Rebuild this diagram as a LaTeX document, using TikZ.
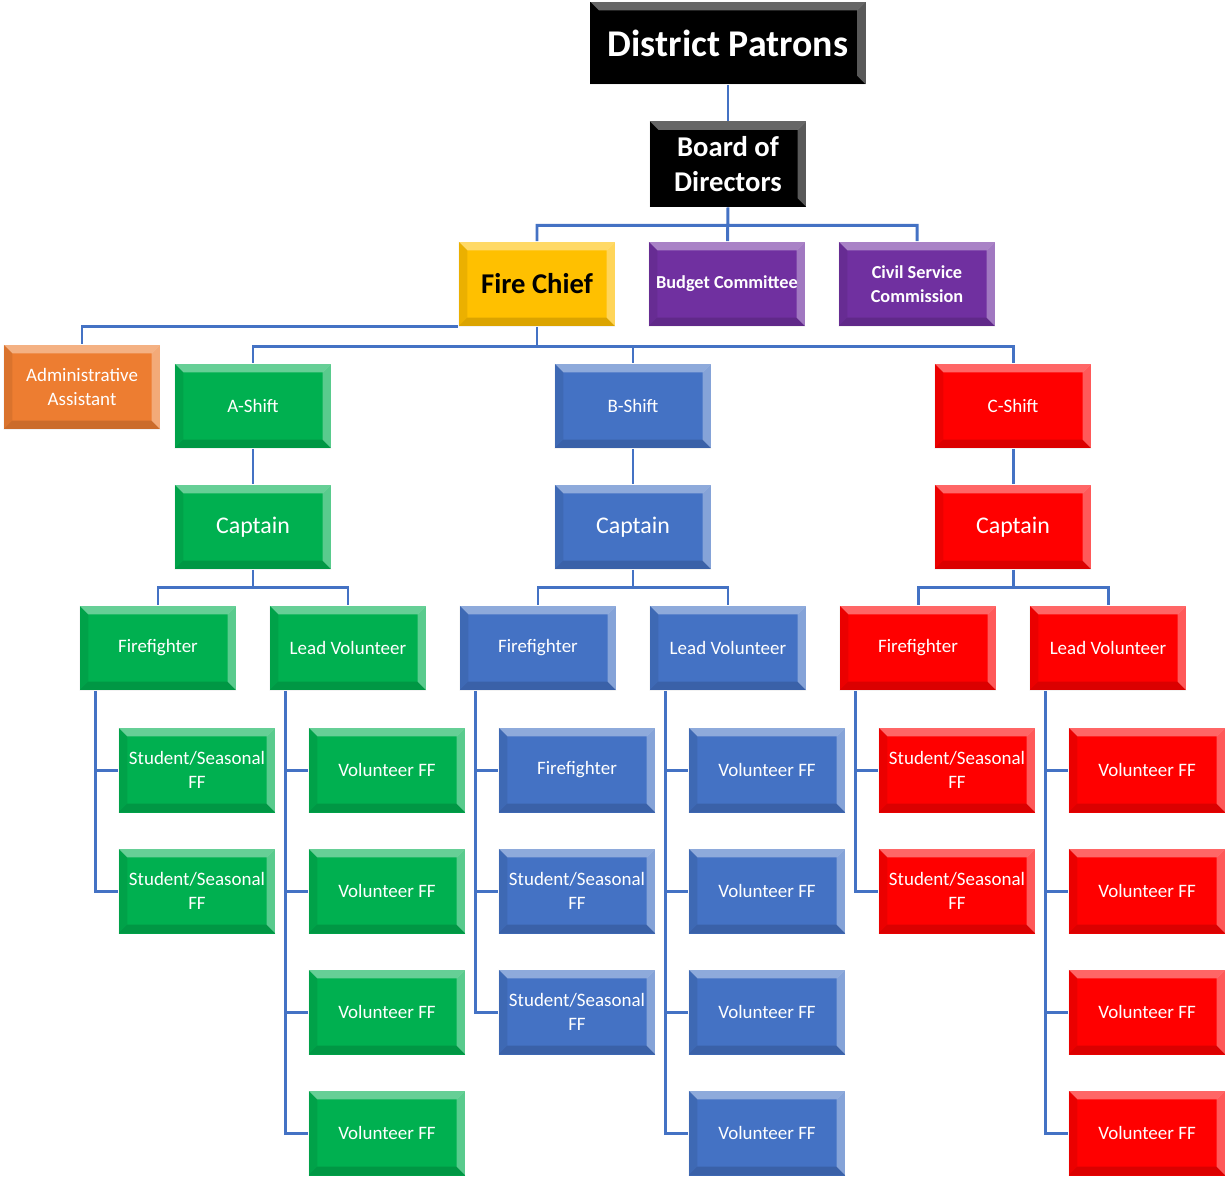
\documentclass[tikz,border=0pt]{standalone}
\usepackage{fontspec}
\setmainfont{Carlito}
\definecolor{tgreen}{HTML}{00B050}
\definecolor{tblue}{HTML}{4472C4}
\definecolor{tred}{HTML}{FF0000}
\definecolor{tpurple}{HTML}{7030A0}
\definecolor{torange}{HTML}{ED7D31}
\definecolor{tyellow}{HTML}{FFC000}
\definecolor{wire}{HTML}{4472C4}
\begin{document}
\begin{tikzpicture}[x=.02cm,y=-.02cm,
  bevel/.style={path picture={
    \fill[white,opacity=.4] (path picture bounding box.north west)--(path picture bounding box.north east)--([shift={(-5pt,-5pt)}]path picture bounding box.north east)--([shift={(5pt,-5pt)}]path picture bounding box.north west)--cycle;
    \fill[white,opacity=.35] (path picture bounding box.north east)--(path picture bounding box.south east)--([shift={(-5pt,5pt)}]path picture bounding box.south east)--([shift={(-5pt,-5pt)}]path picture bounding box.north east)--cycle;
    \fill[black,opacity=.14] (path picture bounding box.south west)--(path picture bounding box.south east)--([shift={(-5pt,5pt)}]path picture bounding box.south east)--([shift={(5pt,5pt)}]path picture bounding box.south west)--cycle;
    \fill[black,opacity=.08] (path picture bounding box.north west)--(path picture bounding box.south west)--([shift={(5pt,5pt)}]path picture bounding box.south west)--([shift={(5pt,-5pt)}]path picture bounding box.north west)--cycle;}},
  box/.style={rectangle,minimum width=3.14cm,minimum height=1.7cm,inner sep=1pt,align=center,text=white,bevel,
    font=\fontsize{10.8}{13.6}\selectfont},
  wired/.style={draw=wire,line width=1.7pt}]
\path[use as bounding box] (0,0) rectangle (1225,1177);

% top of the chart
\node[box,fill=black,minimum width=5.52cm,minimum height=1.66cm,font=\bfseries\fontsize{21.5}{24}\selectfont] (dp) at (728,43) {District Patrons};
\node[box,fill=black,minimum height=1.72cm,font=\bfseries\fontsize{16.3}{20.4}\selectfont] (bod) at (728,164) {Board of\\Directors};
\node[box,fill=tyellow,text=black,font=\bfseries\fontsize{16.3}{20}\selectfont] (chief) at (537,284) {Fire Chief};
\node[box,fill=tpurple,font=\bfseries\fontsize{10.4}{13.6}\selectfont] (bud) at (727,284) {Budget Committee};
\node[box,fill=tpurple,font=\bfseries\fontsize{10.4}{13.6}\selectfont] (csc) at (917,284) {Civil Service\\Commission};
\node[box,fill=torange] (admin) at (82,387) {Administrative\\Assistant};

% shifts and captains
\node[box,fill=tgreen] (ash) at (253,406) {A-Shift};
\node[box,fill=tblue] (bsh) at (633,406) {B-Shift};
\node[box,fill=tred] (csh) at (1013,406) {C-Shift};
\node[box,fill=tgreen,font=\fontsize{13.6}{15}\selectfont] (acap) at (253,527) {Captain};
\node[box,fill=tblue,font=\fontsize{13.6}{15}\selectfont] (bcap) at (633,527) {Captain};
\node[box,fill=tred,font=\fontsize{13.6}{15}\selectfont] (ccap) at (1013,527) {Captain};

% A-shift
\node[box,fill=tgreen] (aff) at (158,648) {Firefighter};
\node[box,fill=tgreen] (alv) at (348,648) {Lead Volunteer};
\node[box,fill=tgreen] (as1) at (197,770) {Student/Seasonal\\FF};
\node[box,fill=tgreen] (as2) at (197,891) {Student/Seasonal\\FF};
\node[box,fill=tgreen] (av1) at (387,770) {Volunteer FF};
\node[box,fill=tgreen] (av2) at (387,891) {Volunteer FF};
\node[box,fill=tgreen] (av3) at (387,1012) {Volunteer FF};
\node[box,fill=tgreen] (av4) at (387,1133) {Volunteer FF};

% B-shift
\node[box,fill=tblue] (bff) at (538,648) {Firefighter};
\node[box,fill=tblue] (blv) at (728,648) {Lead Volunteer};
\node[box,fill=tblue] (bf1) at (577,770) {Firefighter};
\node[box,fill=tblue] (bs1) at (577,891) {Student/Seasonal\\FF};
\node[box,fill=tblue] (bs2) at (577,1012) {Student/Seasonal\\FF};
\node[box,fill=tblue] (bv1) at (767,770) {Volunteer FF};
\node[box,fill=tblue] (bv2) at (767,891) {Volunteer FF};
\node[box,fill=tblue] (bv3) at (767,1012) {Volunteer FF};
\node[box,fill=tblue] (bv4) at (767,1133) {Volunteer FF};

% C-shift
\node[box,fill=tred] (cff) at (918,648) {Firefighter};
\node[box,fill=tred] (clv) at (1108,648) {Lead Volunteer};
\node[box,fill=tred] (cs1) at (957,770) {Student/Seasonal\\FF};
\node[box,fill=tred] (cs2) at (957,891) {Student/Seasonal\\FF};
\node[box,fill=tred] (cv1) at (1147,770) {Volunteer FF};
\node[box,fill=tred] (cv2) at (1147,891) {Volunteer FF};
\node[box,fill=tred] (cv3) at (1147,1012) {Volunteer FF};
\node[box,fill=tred] (cv4) at (1147,1133) {Volunteer FF};

% connectors
\draw[wired] (dp) -- (bod);
\draw[wired] (bod.south) -- ++(0,18) -| (chief) (bod.south) -- (bud) (bod.south) ++(0,18) -| (csc);
\draw[wired] (chief.south west) -| (admin);
\draw[wired] (chief.south) -- ++(0,20) -| (ash) (chief.south) ++(0,20) -| (bsh) (chief.south) ++(0,20) -| (csh);
\draw[wired] (ash) -- (acap) (bsh) -- (bcap) (csh) -- (ccap);
\draw[wired] (acap.south) -- ++(0,18) -| (aff) (acap.south) ++(0,18) -| (alv);
\draw[wired] (bcap.south) -- ++(0,18) -| (bff) (bcap.south) ++(0,18) -| (blv);
\draw[wired] (ccap.south) -- ++(0,18) -| (cff) (ccap.south) ++(0,18) -| (clv);
\draw[wired] (aff.south west) ++(16,0) |- (as1) (aff.south west) ++(16,0) |- (as2);
\draw[wired] (alv.south west) ++(16,0) |- (av1) (alv.south west) ++(16,0) |- (av2) (alv.south west) ++(16,0) |- (av3) (alv.south west) ++(16,0) |- (av4);
\draw[wired] (bff.south west) ++(16,0) |- (bf1) (bff.south west) ++(16,0) |- (bs1) (bff.south west) ++(16,0) |- (bs2);
\draw[wired] (blv.south west) ++(16,0) |- (bv1) (blv.south west) ++(16,0) |- (bv2) (blv.south west) ++(16,0) |- (bv3) (blv.south west) ++(16,0) |- (bv4);
\draw[wired] (cff.south west) ++(16,0) |- (cs1) (cff.south west) ++(16,0) |- (cs2);
\draw[wired] (clv.south west) ++(16,0) |- (cv1) (clv.south west) ++(16,0) |- (cv2) (clv.south west) ++(16,0) |- (cv3) (clv.south west) ++(16,0) |- (cv4);
\end{tikzpicture}
\end{document}
